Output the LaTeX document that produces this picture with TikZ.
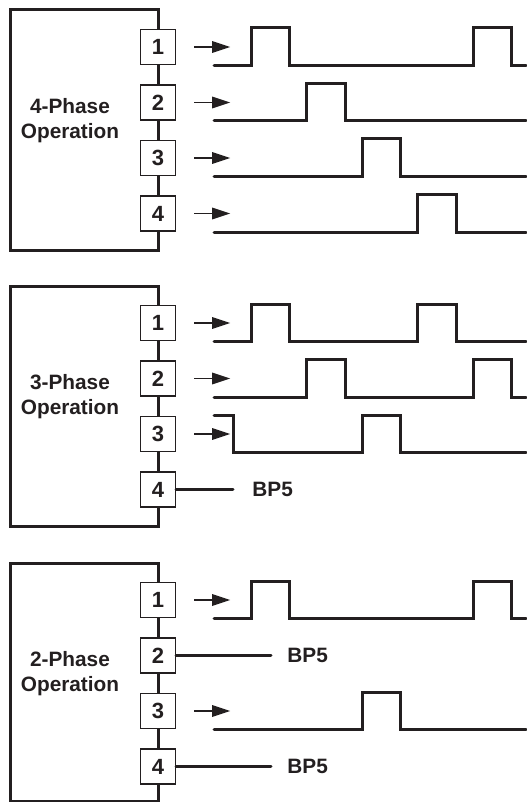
\documentclass[tikz,border=0pt]{standalone}
\usepackage{fontspec}
\setmainfont{Liberation Sans}
\usetikzlibrary{arrows.meta}
\definecolor{ink}{HTML}{231F20}

% pulse train of one phase: row centre #1, rising edges at #2
\newcommand{\pulsetrain}[2]{%
  \draw[wave] (214,#1+18.5) \foreach \p in {#2} {
    -- (\p,#1+18.5) -- (\p,#1-19) -- (\p+38.5,#1-19) -- (\p+38.5,#1+18.5)
  } -- (526,#1+18.5);
}

\begin{document}
\begin{tikzpicture}[x=0.5pt, y=-0.5pt, color=ink,
  chip/.style={draw=ink, line width=1.5pt},
  pinbox/.style={draw=ink, fill=white, line width=0.7pt, minimum size=17.4pt,
    inner sep=0pt, font=\bfseries\fontsize{11}{12}\selectfont},
  phasetext/.style={align=center, font=\bfseries\fontsize{10.4}{12.5}\selectfont},
  bptext/.style={anchor=west, inner sep=0pt, font=\bfseries\fontsize{10.4}{12}\selectfont},
  wave/.style={line width=1.5pt, line cap=round},
  feed/.style={line width=0.7pt, -{Triangle[length=9pt,width=5.8pt]}},
  bias/.style={line width=1.5pt, line cap=round}]

  \useasboundingbox (0,0) rectangle (526,802);

  % 4-phase operation
  \begin{scope}
    \draw[chip] (10,10) rectangle (158,250);
    \node[phasetext] (op4) at (70,120.5) {4-Phase\\Operation};
    \foreach \i in {1,...,4} {
      \node[pinbox] (a\i) at (158,{47+55.5*(\i-1)}) {\i};
      \draw[feed] ([xshift=9pt]a\i.east) -- ++(18pt,0);
    }
    \pulsetrain{47}{251,473}
    \pulsetrain{102.5}{306.5}
    \pulsetrain{158}{362}
    \pulsetrain{213.5}{417.5}
  \end{scope}

  % 3-phase operation
  \begin{scope}[shift={(0,276)}]
    \draw[chip] (10,10) rectangle (158,250);
    \node[phasetext] (op3) at (70,120.5) {3-Phase\\Operation};
    \foreach \i in {1,...,4} {
      \node[pinbox] (b\i) at (158,{47+55.5*(\i-1)}) {\i};
    }
    \foreach \i in {1,2,3} {
      \draw[feed] ([xshift=9pt]b\i.east) -- ++(18pt,0);
    }
    \pulsetrain{47}{251,417.5}
    \pulsetrain{102.5}{306.5,473}
    \draw[wave] (214,139) -- (233,139) -- (233,176.5) -- (362,176.5)
      -- (362,139) -- (400.5,139) -- (400.5,176.5) -- (526,176.5);
    \node[bptext] (bp3) at (252,213.5) {BP5};
    \draw[bias, shorten >=9.5pt] (b4) -- (bp3);
  \end{scope}

  % 2-phase operation
  \begin{scope}[shift={(0,553)}]
    \draw[chip] (10,10) rectangle (158,248.5);
    \node[phasetext] (op2) at (70,120.5) {2-Phase\\Operation};
    \foreach \i in {1,...,4} {
      \node[pinbox] (c\i) at (158,{47+55.5*(\i-1)}) {\i};
    }
    \foreach \i in {1,3} {
      \draw[feed] ([xshift=9pt]c\i.east) -- ++(18pt,0);
    }
    \pulsetrain{47}{251,473}
    \pulsetrain{158}{362}
    \node[bptext] (bp2a) at (287,102.5) {BP5};
    \node[bptext] (bp2b) at (287,213.5) {BP5};
    \draw[bias, shorten >=8pt] (c2) -- (bp2a);
    \draw[bias, shorten >=8pt] (c4) -- (bp2b);
  \end{scope}
\end{tikzpicture}
\end{document}
